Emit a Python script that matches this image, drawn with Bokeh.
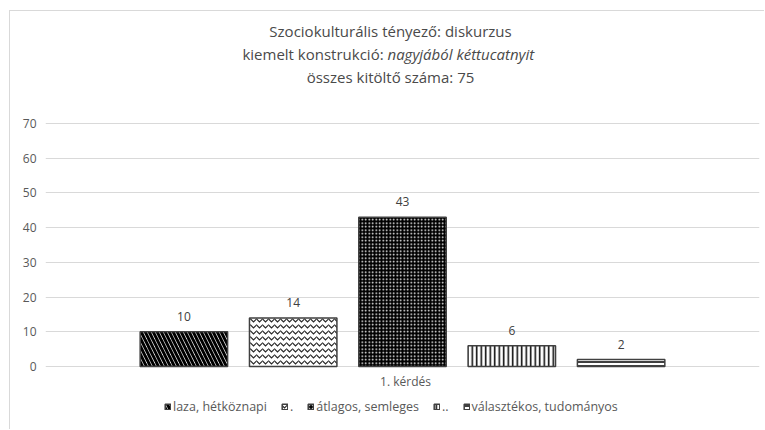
from bokeh.plotting import figure
from bokeh.models import (Range1d, ColumnDataSource, LabelSet, Label, Legend, LegendItem,
                          FixedTicker)
from bokeh.core.properties import value
from bokeh.embed import file_html
from bokeh.resources import INLINE

# ---- data ----
category = "1. kérdés"
series = ["laza, hétköznapi", ".", "átlagos, semleges", "..", "választékos, tudományos"]
values = [10, 14, 43, 6, 2]
y_ticks = [0, 10, 20, 30, 40, 50, 60, 70]
title_line1 = "Szociokulturális tényező: diskurzus"
title_line2a = "kiemelt konstrukció: "
title_line2b = "nagyjából kéttucatnyit"
title_line3 = "összes kitöltő száma: 75"

FONT = "Open Sans"
W, H = 755, 419
px_per_unit = 243 / 70.0
y0_canvas = 355
ymax = y0_canvas / px_per_unit
ymin = -(H - y0_canvas) / px_per_unit

n = len(series)
half = 3.266
p = figure(width=W, height=H, output_backend="svg", toolbar_location=None,
           x_range=Range1d(-half, half), y_range=Range1d(ymin, ymax),
           min_border_left=35, min_border_right=6, min_border_top=0, min_border_bottom=0)
p.styles = {"margin-left": "9px", "margin-top": "10px",
            "border-top": "1px solid #d9d9d9", "border-left": "1px solid #d9d9d9"}
p.outline_line_color = None
p.background_fill_color = "white"
p.border_fill_color = "white"

xs = [i - (n - 1) / 2 for i in range(n)]
styles = [
    dict(fill_color="white", hatch_pattern="\\", hatch_color="black", hatch_weight=3, hatch_scale=8),
    dict(fill_color="white", hatch_pattern="horizontal_wave", hatch_color="#262626", hatch_weight=1.2, hatch_scale=6),
    dict(fill_color="black", hatch_pattern="dot", hatch_color="white", hatch_weight=1, hatch_scale=3.5),
    dict(fill_color="white", hatch_pattern="vertical_line", hatch_color="black", hatch_weight=1.5, hatch_scale=4.5),
    dict(fill_color="white", hatch_pattern="horizontal_line", hatch_color="black", hatch_weight=1.5, hatch_scale=4),
]

items = []
for i, (name, v) in enumerate(zip(series, values)):
    src = ColumnDataSource(dict(x=[xs[i]], top=[v], lbl=[str(v)]))
    r = p.vbar(x="x", top="top", width=0.8, bottom=0, source=src,
               line_color="#404040", line_width=1.5, **styles[i])
    items.append(LegendItem(label=name, renderers=[r]))
    p.add_layout(LabelSet(x="x", y="top", text="lbl", source=src, text_align="center",
                          text_baseline="bottom", y_offset=11, text_font=value(FONT),
                          text_font_size=value("12px"), text_color="#404040"))

# axes
p.yaxis.ticker = FixedTicker(ticks=y_ticks)
p.yaxis.axis_line_color = None
p.yaxis.major_tick_line_color = None
p.yaxis.minor_tick_line_color = None
p.yaxis.major_tick_out = 0
p.yaxis.major_tick_in = 0
p.yaxis.major_label_text_font = FONT
p.yaxis.major_label_text_font_size = "12px"
p.yaxis.major_label_text_color = "#595959"
p.yaxis.major_label_standoff = 9
p.xaxis.visible = False

p.xgrid.grid_line_color = None
p.ygrid.ticker = FixedTicker(ticks=y_ticks)
p.ygrid.grid_line_color = "#d9d9d9"
p.ygrid.grid_line_width = 1

# category label under the bars (screen units from frame bottom-left)
p.add_layout(Label(x=360, y=49, text=category, text_align="center", text_baseline="middle",
                   x_units="screen", y_units="screen", text_font=FONT,
                   text_font_size="12px", text_color="#595959"))

# legend
leg = Legend(items=items, orientation="horizontal", location=(119, 15),
             glyph_width=7, glyph_height=7, label_standoff=2, spacing=14, padding=0,
             label_width=1,
             label_text_font=FONT, label_text_font_size="12.5px", label_text_color="#595959",
             border_line_color=None, background_fill_alpha=0, margin=0)
p.add_layout(leg, "center")

# titles
tstyle = dict(x_units="screen", y_units="screen", text_font=FONT, text_font_size="15px",
              text_color="#4a4a4a", text_baseline="middle")
p.add_layout(Label(x=345, y=400, text=title_line1, text_align="center", **tstyle))
p.add_layout(Label(x=342, y=377, text=title_line2a, text_align="right", **tstyle))
p.add_layout(Label(x=342, y=377, text=title_line2b, text_align="left",
                   text_font_style="italic", **tstyle))
p.add_layout(Label(x=345, y=354, text=title_line3, text_align="center", **tstyle))

open("out.html", "w").write(file_html(p, INLINE))
